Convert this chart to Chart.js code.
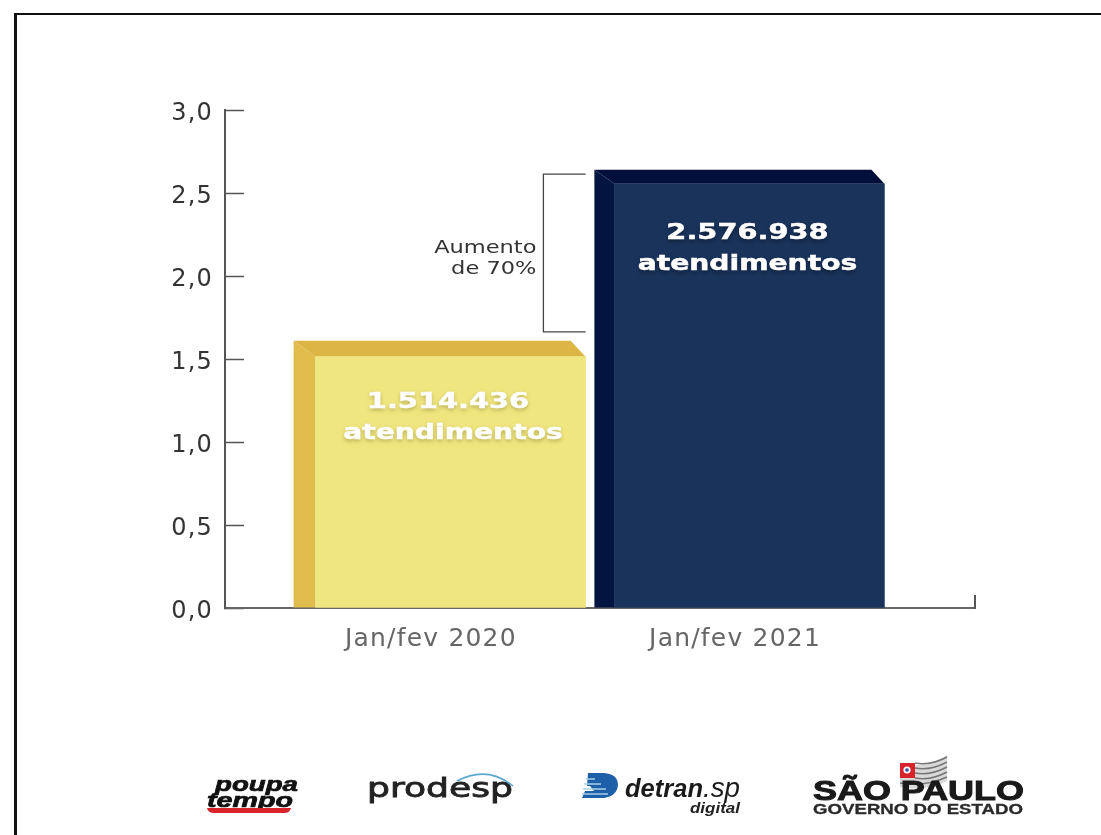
<!DOCTYPE html>
<html lang="pt">
<head>
<meta charset="utf-8">
<title>Atendimentos Jan/fev 2020 e 2021</title>
<script src="https://cdn.jsdelivr.net/npm/chart.js@4"></script>
<style>
html,body{margin:0;padding:0;background:#fff;width:1101px;height:835px;overflow:hidden}
#wrap{position:relative;width:1101px;height:835px}
#frame{position:absolute;left:14px;top:13px;right:-10px;bottom:-10px;border:3px solid #111;box-sizing:border-box;border-width:2.5px 0 0 3px}
canvas{position:absolute;left:0;top:0}
svg{position:absolute;left:0;top:0}
</style>
</head>
<body>
<div id="wrap">
<div id="frame"></div>
<canvas id="c" width="1101" height="835"></canvas>
<svg width="1101" height="835" viewBox="0 0 1101 835" xmlns="http://www.w3.org/2000/svg">
  <!-- poupatempo -->
  <text x="215" y="791" font-family="Liberation Sans" font-weight="700" font-style="italic" font-size="21" textLength="83" lengthAdjust="spacingAndGlyphs" fill="#111" stroke="#111" stroke-width=".7">poupa</text>
  <text x="207" y="807" font-family="Liberation Sans" font-weight="700" font-style="italic" font-size="21" textLength="86" lengthAdjust="spacingAndGlyphs" fill="#111" stroke="#111" stroke-width=".7">tempo</text>
  <path d="M207 808H291Q290 813 284 813H214Q208 813 207 808Z" fill="#d8232a"/>
  <!-- prodesp -->
  <text x="367" y="797" font-family="DejaVu Sans" font-weight="400" font-size="26" textLength="146" lengthAdjust="spacingAndGlyphs" fill="#222" stroke="#222" stroke-width=".8">prodesp</text>
  <path d="M457 781Q487 765 513 786" fill="none" stroke="#5ba7d0" stroke-width="1.6"/>
  <!-- detran.sp -->
  <path d="M588 773H604Q618 774 618 785Q617 796 604 798H582L585 791H594L590 786H587Z" fill="#1d5fa8"/>
  <path d="M586 779H595M584 784H601M583 789H606M582 794H608" stroke="#a8cfe8" stroke-width="1.6"/>
  <text x="625" y="797" font-family="Liberation Sans" font-weight="700" font-style="italic" font-size="25" textLength="78" lengthAdjust="spacingAndGlyphs" fill="#1a1a1a">detran</text>
  <text x="703" y="797" font-family="Liberation Sans" font-style="italic" font-size="27" textLength="37" lengthAdjust="spacingAndGlyphs" fill="#1a1a1a">.sp</text>
  <text x="690" y="813" font-family="Liberation Sans" font-weight="700" font-style="italic" font-size="15" textLength="50" lengthAdjust="spacingAndGlyphs" fill="#222">digital</text>
  <!-- Bandeira -->
  <path d="M900 763Q925 770 947 755V781Q925 792 900 787Z" fill="#d9d9d9"/>
  <path d="M915 763Q930 766 947 757M915 768Q930 771 947 762M915 773Q930 776 947 767M915 778Q930 781 947 772M900 783Q925 787 947 777" fill="none" stroke="#777" stroke-width="1.6"/>
  <rect x="900" y="763" width="15" height="15" fill="#d8232a"/>
  <circle cx="907" cy="770" r="3.6" fill="#fff"/>
  <circle cx="907" cy="770" r="1.8" fill="#2a4f9c"/>
  <!-- São Paulo -->
  <text x="813" y="800" font-family="Liberation Sans" font-weight="700" font-size="28" textLength="211" lengthAdjust="spacingAndGlyphs" fill="#1a1a1a" stroke="#1a1a1a" stroke-width="1">SÃO PAULO</text>
  <text x="813" y="814" font-family="Liberation Sans" font-weight="700" font-size="14.5" textLength="210" lengthAdjust="spacingAndGlyphs" fill="#2a2a2a" stroke="#2a2a2a" stroke-width=".3">GOVERNO DO ESTADO</text>
</svg>
</div>
<script>
// Dados
const categories = ['Jan/fev 2020', 'Jan/fev 2021'];
const barPositions = [1, 2];
const values = [1.514, 2.555]; // altura desenhada na figura (milhões)
const valueLabels = ['1.514.436', '2.576.938'];
const unitLabel = 'atendimentos';
const yTicks = [0, 0.5, 1, 1.5, 2, 2.5, 3];
const bracketRange = [1.663, 2.614];
const bracketNote = ['Aumento', 'de 70%'];
const categoryTickPositions = [0.934, 1.952];

const frontColors = ['#efe67f', '#1a335b'];
const sideColors = ['#e0bc4c', '#021440'];
const topColors = ['#ddb545', '#020f3a'];

function stretched(ctx, text, x, y, font, sx, color, align, strokeW) {
  ctx.save();
  ctx.font = font;
  ctx.fillStyle = color;
  ctx.textAlign = align || 'center';
  ctx.textBaseline = 'alphabetic';
  ctx.translate(x, y);
  ctx.scale(sx, 1);
  ctx.fillText(text, 0, 0);
  if (strokeW) {
    ctx.shadowColor = 'transparent';
    ctx.strokeStyle = color;
    ctx.lineWidth = strokeW;
    ctx.strokeText(text, 0, 0);
  }
  ctx.restore();
}

const decor = {
  id: 'decor',
  beforeDraw(chart) { chart.ctx.letterSpacing = '1.2px'; },
  beforeDatasetsDraw(chart) {
    const ctx = chart.ctx;
    const dx = [22, 20], dy = [16, 14], rx = [15, 13];
    chart.getDatasetMeta(0).data.forEach((bar, i) => {
      const l = bar.x - bar.width / 2, r = bar.x + bar.width / 2, t = bar.y, b = bar.base;
      ctx.fillStyle = sideColors[i];
      ctx.beginPath();
      ctx.moveTo(l - dx[i], t - dy[i]); ctx.lineTo(l, t); ctx.lineTo(l, b); ctx.lineTo(l - dx[i], b);
      ctx.closePath(); ctx.fill();
      ctx.fillStyle = topColors[i];
      ctx.beginPath();
      ctx.moveTo(l - dx[i], t - dy[i]); ctx.lineTo(r - rx[i], t - dy[i]); ctx.lineTo(r, t); ctx.lineTo(l, t);
      ctx.closePath(); ctx.fill();
    });
  },
  afterDatasetsDraw(chart) {
    const ctx = chart.ctx, y = chart.scales.y, area = chart.chartArea;
    ctx.save();
    ctx.letterSpacing = '0px';
    // marca final do eixo x
    ctx.strokeStyle = '#555';
    ctx.lineWidth = 2;
    ctx.beginPath();
    ctx.moveTo(area.right, area.bottom + 1); ctx.lineTo(area.right, area.bottom - 13);
    ctx.stroke();
    // colchete
    const yTop = y.getPixelForValue(bracketRange[1]), yBot = y.getPixelForValue(bracketRange[0]);
    const bar2 = chart.getDatasetMeta(0).data[1], bar1 = chart.getDatasetMeta(0).data[0];
    const bx = bar2.x - 206, ex = bar1.x + 135;
    ctx.strokeStyle = '#444';
    ctx.lineWidth = 1.3;
    ctx.beginPath();
    ctx.moveTo(ex, yTop); ctx.lineTo(bx, yTop); ctx.lineTo(bx, yBot); ctx.lineTo(ex, yBot);
    ctx.stroke();
    const noteFont = '18px "DejaVu Sans"';
    stretched(ctx, bracketNote[0], bx - 7, 253, noteFont, 1.25, '#333', 'right');
    stretched(ctx, bracketNote[1], bx - 7, 274, noteFont, 1.25, '#333', 'right');
    // rótulos das barras
    const font = 'bold 22px "DejaVu Sans"';
    const cx = [[448, 453], [747.5, 747.5]];
    const off = [[51, 82], [55, 86]];
    const sx = [1.31, 1.28];
    chart.getDatasetMeta(0).data.forEach((bar, i) => {
      ctx.save();
      ctx.shadowColor = i === 0 ? 'rgba(130,120,50,.55)' : 'rgba(0,0,0,.45)';
      ctx.shadowBlur = 4;
      ctx.shadowOffsetY = 2;
      stretched(ctx, valueLabels[i], cx[i][0], bar.y + off[i][0], font, sx[0], '#fff', 'center', 0.5);
      stretched(ctx, unitLabel, cx[i][1], bar.y + off[i][1], font, sx[1], '#fff', 'center', 0.5);
      ctx.restore();
    });
    ctx.restore();
  }
};

new Chart(document.getElementById('c'), {
  type: 'bar',
  data: {
    datasets: [{
      label: 'Atendimentos',
      data: barPositions.map((x, i) => ({ x, y: values[i] })),
      backgroundColor: frontColors,
      borderWidth: 0,
      barThickness: 270
    }]
  },
  options: {
    responsive: false,
    animation: false,
    devicePixelRatio: 1,
    layout: { padding: { left: 0, right: 126, top: 110, bottom: 0 } },
    plugins: { legend: { display: false }, tooltip: { enabled: false }, title: { display: false } },
    scales: {
      x: {
        type: 'linear',
        offset: false,
        bounds: 'data',
        min: 0.245,
        max: 2.755,
        afterBuildTicks(s) { s.ticks = categoryTickPositions.map(value => ({ value })); },
        afterFit(s) { s.height = 227; s.paddingLeft = 0; s.paddingRight = 0; },
        grid: { display: true, drawOnChartArea: false, drawTicks: false },
        border: { display: true, color: '#666', width: 2 },
        ticks: {
          autoSkip: false,
          maxRotation: 0,
          padding: 16,
          color: '#666',
          font: { family: '"DejaVu Sans"', size: 25 },
          callback: (v, i) => categories[i]
        }
      },
      y: {
        min: 0,
        max: 3,
        afterBuildTicks(s) { s.ticks = yTicks.map(value => ({ value })); },
        afterFit(s) { s.width = 225; s.paddingTop = 0; s.paddingBottom = 0; },
        grid: { display: true, drawOnChartArea: false, drawTicks: true, tickLength: -19, tickColor: '#555', tickWidth: 1.5, color: '#555' },
        border: { display: true, color: '#555', width: 2 },
        ticks: {
          padding: 31,
          labelOffset: 4,
          color: '#333',
          font: { family: '"DejaVu Sans"', size: 24 },
          callback: v => v.toFixed(1).replace('.', ',')
        }
      }
    }
  },
  plugins: [decor]
});
</script>
</body>
</html>
